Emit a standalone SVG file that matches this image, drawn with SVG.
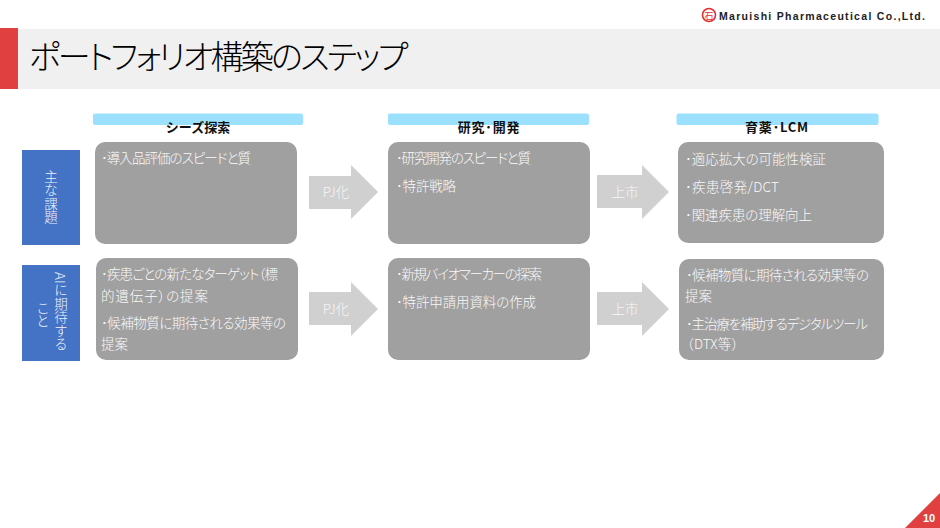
<svg xmlns="http://www.w3.org/2000/svg" width="940" height="528" viewBox="0 0 940 528">
<style>
text{font-family:"Noto Sans CJK JP","Liberation Sans",sans-serif}
.b{fill:#a0a0a0}
.h{fill:#9be1fd}
.l{fill:#4472c4}
.a{fill:#d0d0d0}
.t{fill:#fafafa;font-size:13.5px;font-weight:300;font-feature-settings:"palt"}
.at{fill:#f6f6f6;font-size:13.5px;font-weight:300;text-anchor:middle;font-feature-settings:"palt"}
.hd{fill:#111;font-size:13px;font-weight:700;text-anchor:middle}
.v{fill:#eef2fa;font-size:13.5px;font-weight:300;writing-mode:vertical-rl}
</style>
<rect width="940" height="528" fill="#fff"/>
<g id="header">
<rect x="18" y="29" width="922" height="60" fill="#f0f0f0"/>
<rect x="0" y="28" width="18" height="61" fill="#e04040"/>
<text x="29" y="69" font-size="33" font-weight="300" fill="#000" style="font-feature-settings:'palt'" textLength="379" lengthAdjust="spacing">ポートフォリオ構築のステップ</text>
<circle cx="709" cy="15" r="6.500" fill="none" stroke="#e03030" stroke-width="1.600"/>
<text x="709" y="18.500" font-size="9" fill="#e03030" text-anchor="middle">石</text>
<text x="719" y="19.500" style="font-family:'Liberation Sans',sans-serif" font-size="10.500" font-weight="700" fill="#222" letter-spacing="1.300">Maruishi Pharmaceutical Co.,Ltd.</text>
</g>
<g id="col1-head"><rect class="h" x="93" y="113.500" width="210" height="11.500" rx="2"/><text class="hd" x="198" y="132">シーズ探索</text></g>
<g id="col2-head"><rect class="h" x="388" y="113.500" width="201" height="11.500" rx="2"/><text class="hd" x="489" y="132" letter-spacing=".8">研究･開発</text></g>
<g id="col3-head"><rect class="h" x="676.500" y="113.500" width="202" height="11.500" rx="2"/><text class="hd" x="777" y="132" letter-spacing=".8">育薬･LCM</text></g>
<g id="row1-label"><rect class="l" x="22" y="150" width="58" height="95"/><text class="v" x="51" y="170">主な課題</text></g>
<g id="row2-label"><rect class="l" x="22" y="265" width="58" height="96"/><text class="v" x="61" y="272">AIに期待する</text><text class="v" x="43" y="301">こと</text></g>
<g id="box-1-1"><rect class="b" x="95" y="142" width="202" height="102" rx="10"/><text class="t" x="101" y="163" textLength="150">･導入品評価のスピードと質</text></g>
<g id="box-2-1"><rect class="b" x="96" y="258" width="202" height="102" rx="10"/><text class="t" x="101" y="279" textLength="177">･疾患ごとの新たなターゲット（標</text><text class="t" x="101" y="301" textLength="107">的遺伝子）の提案</text><text class="t" x="101" y="328" textLength="185">･候補物質に期待される効果等の</text><text class="t" x="101" y="349" textLength="27">提案</text></g>
<g id="box-1-2"><rect class="b" x="388" y="142" width="202" height="102" rx="10"/><text class="t" x="396" y="163" textLength="135">･研究開発のスピードと質</text><text class="t" x="396" y="191" textLength="60">･特許戦略</text></g>
<g id="box-2-2"><rect class="b" x="388" y="258" width="202" height="102" rx="10"/><text class="t" x="396" y="279" textLength="146">･新規バイオマーカーの探索</text><text class="t" x="396" y="307" textLength="140">･特許申請用資料の作成</text></g>
<g id="box-1-3"><rect class="b" x="678" y="142" width="206" height="101" rx="10"/><text class="t" x="685" y="164" textLength="141">･適応拡大の可能性検証</text><text class="t" x="685" y="192" textLength="94">･疾患啓発/DCT</text><text class="t" x="685" y="220" textLength="127">･関連疾患の理解向上</text></g>
<g id="box-2-3"><rect class="b" x="679" y="259" width="205" height="101" rx="10"/><text class="t" x="686" y="280" textLength="183">･候補物質に期待される効果等の</text><text class="t" x="685" y="301" textLength="27">提案</text><text class="t" x="686" y="329" textLength="182">･主治療を補助するデジタルツール</text><text class="t" x="680.500" y="349" style="font-feature-settings:normal">（DTX等）</text></g>
<g id="connectors">
<path class="a" d="M309 176H351V165L378 192 351 219V209H309Z"/>
<path class="a" d="M309 292H351V282L378 309 351 336V325H309Z"/>
<path class="a" d="M597 175H642V165L669 192 642 219V208H597Z"/>
<path class="a" d="M597 292H642V282L669 309 642 336V325H597Z"/>
<text class="at" x="336" y="197">PJ化</text>
<text class="at" x="336" y="314">PJ化</text>
<text class="at" x="625" y="197">上市</text>
<text class="at" x="625" y="314">上市</text>
</g>
<g id="page-number"><path d="M905 528 940 493V528Z" fill="#e04040"/><text x="929" y="522" style="font-family:'Liberation Sans',sans-serif" font-size="11" font-weight="700" fill="#fff" text-anchor="middle">10</text></g>
</svg>
